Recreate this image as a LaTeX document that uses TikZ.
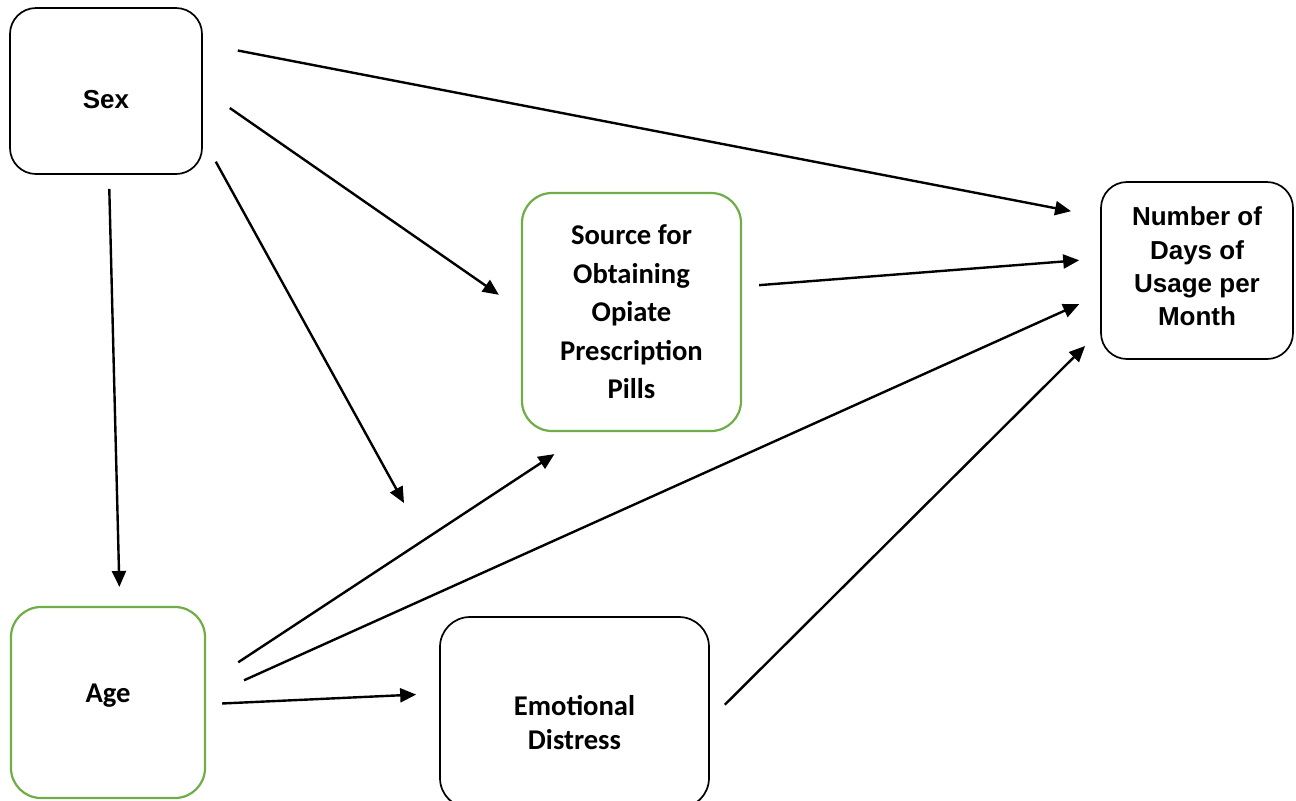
\documentclass[tikz,border=0pt]{standalone}
\usepackage{fontspec}
\setmainfont{Liberation Sans}
\newfontfamily\calibri{Carlito}
\usetikzlibrary{arrows.meta}

\definecolor{boxgreen}{RGB}{112,173,71}

\tikzstyle{block}=[rectangle,
    draw=black,
    line width=0.85pt,
    rounded corners=13pt,
    inner sep=0pt]
\tikzstyle{greenblock}=[block,
    draw=boxgreen,
    line width=1.1pt,
    rounded corners=15pt]
\tikzstyle{arialtext}=[align=center,
    font=\bfseries\fontsize{13}{16.7}\selectfont]
\tikzstyle{calibritext}=[align=center,
    font=\calibri\bfseries\fontsize{14.3}{19.25}\selectfont]
\tikzstyle{link}=[->,line width=1.2pt]

\begin{document}
\begin{tikzpicture}[x=0.5pt,y=-0.5pt,>={Triangle[length=8pt,width=7pt]}]
    \clip (0,0) rectangle (1296,800);
    \node (sex) [block,minimum width=96pt,minimum height=83pt] at (106,91) {};
    \node (source) [greenblock,minimum width=109.5pt,minimum height=119pt] at (631.5,312) {};
    \node (days) [block,minimum width=96pt,minimum height=88.5pt] at (1197,270.5) {};
    \node (age) [greenblock,minimum width=97pt,minimum height=95.5pt] at (108,702.5) {};
    \node (distress) [block,rounded corners=15pt,minimum width=134.5pt,minimum height=95.5pt] at (574.5,712.5) {};
    \coordinate (moder) at (404,503);

    \node (sextext) [arialtext] at ([yshift=-4.5pt]sex.center) {Sex};
    \node (sourcetext) [calibritext] at (source.center)
        {Source for\\Obtaining\\Opiate\\Prescription\\Pills};
    \node (daystext) [arialtext] at ([yshift=2pt]days.center)
        {Number of\\Days of\\Usage per\\Month};
    \node (agetext) [calibritext] at ([yshift=3.5pt]age.center) {Age};
    \node (distresstext) [calibritext,font=\calibri\bfseries\fontsize{14.3}{17}\selectfont]
        at ([yshift=-5pt]distress.center) {Emotional\\Distress};

    \draw [link,shorten <=17.8pt,shorten >=14.8pt] (sex.26) -- (days.151.6);
    \draw [link,shorten <=16.4pt,shorten >=13.4pt] (sex.1) -- (source.179.6);
    \draw [link,shorten <=13.4pt] (sex.-26.3) -- (moder);
    \draw [link,shorten <=7pt,shorten >=9.5pt] (sex.-88.2) -- (age.83.1);
    \draw [link,shorten <=8.5pt,shorten >=10.5pt] (source.13.2) -- (days.173.4);
    \draw [link,shorten <=19.2pt,shorten >=20pt] (age.11.3) -- (source.-110.8);
    \draw [link,shorten <=20.8pt,shorten >=11.5pt] (age.3.2) -- (days.194.7);
    \draw [link,shorten <=8pt,shorten >=11.5pt] (age.-1.9) -- (distress.172.5);
    \draw [link,shorten <=10.6pt,shorten >=10.6pt] (distress.-3.1) -- (days.212.3);
\end{tikzpicture}
\end{document}
